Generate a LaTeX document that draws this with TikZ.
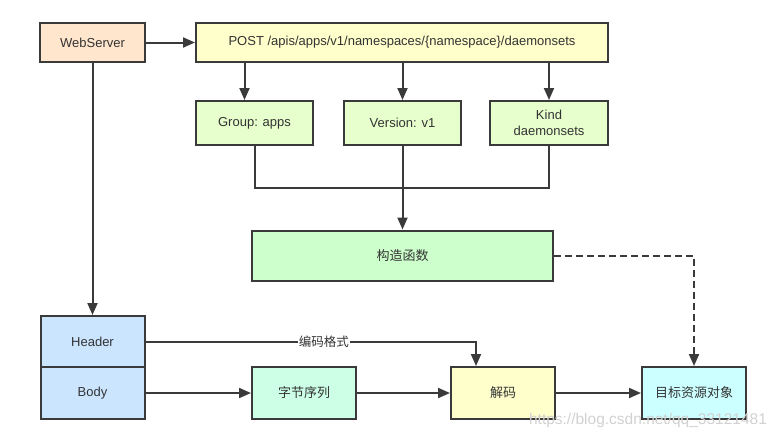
\documentclass[tikz,border=0pt]{standalone}
\usepackage{fontspec}
\setmainfont{Liberation Sans}
\newfontfamily\cjk{Noto Sans CJK SC}
\usepackage{tikz}
\usetikzlibrary{arrows.meta}
\definecolor{linegray}{HTML}{3A3A3A}
\definecolor{textgray}{HTML}{333333}
\definecolor{peach}{HTML}{FFE6CC}
\definecolor{lightyellow}{HTML}{FFFFCC}
\definecolor{palegreen}{HTML}{E6FFCC}
\definecolor{mintgreen}{HTML}{CCFFCC}
\definecolor{lightblue}{HTML}{CCE5FF}
\definecolor{mint}{HTML}{CCFFE6}
\definecolor{lightcyan}{HTML}{CCFFFF}
\tikzset{
  box/.style={draw=linegray, line width=2pt, text=textgray, align=center,
    inner sep=0pt, font=\fontsize{13}{16}\selectfont},
  arr/.style={draw=linegray, line width=2pt, -{Triangle[length=12pt,width=10pt]}},
  wire/.style={draw=linegray, line width=2pt}
}
\begin{document}
\begin{tikzpicture}[x=1pt, y=-1pt]
      \useasboundingbox (0,0) rectangle (778,440);

      \draw (92.5,42.5) node[box, fill=peach, minimum width=105, minimum height=39] (web) {WebServer};
      \draw (402,42.5) node[box, fill=lightyellow, minimum width=412, minimum height=39] (post) {POST /apis/apps/v1/namespaces/\{namespace\}/daemonsets};

      \draw (254.5,123) node[box, fill=palegreen, minimum width=117, minimum height=44] (group) {Group: apps};
      \draw (402.5,123) node[box, fill=palegreen, minimum width=117, minimum height=44] (version) {Version: v1};
      \draw (549,123) node[box, fill=palegreen, minimum width=118, minimum height=44] (kind) {Kind\\daemonsets};

      \draw (402.5,255.5) node[box, fill=mintgreen, minimum width=301, minimum height=50] (ctor) {\cjk 构造函数};

      \draw (92.5,341.5) node[box, fill=lightblue, minimum width=104, minimum height=51] (header) {Header};
      \draw (92.5,393) node[box, fill=lightblue, minimum width=104, minimum height=52] (body) {Body};
      \draw (304,393) node[box, fill=mint, minimum width=104, minimum height=52] (bytes) {\cjk 字节序列};
      \draw (503,393) node[box, fill=lightyellow, minimum width=104, minimum height=52] (decode) {\cjk 解码};
      \draw (694,393) node[box, fill=lightcyan, minimum width=104, minimum height=52] (target) {\cjk 目标资源对象};

      \coordinate (join) at (402.5,188);

      \draw[arr] (web) -- (post);
      \draw[arr] ([xshift=-10pt]group.north |- post.south) -- ([xshift=-10pt]group.north);
      \draw[arr] (version.north |- post.south) -- (version.north);
      \draw[arr] (kind.north |- post.south) -- (kind.north);

      \draw[wire] (group.south) |- (join) -| (kind.south);
      \draw[arr] (version.south) -- (ctor.north);

      \draw[arr] (web.south) -- (header.north);
      \draw[arr, dashed, dash pattern=on 7pt off 4pt] (ctor.east) -| (target.north);

      \draw[arr] (header.east) -| ([xshift=-27pt]decode.north)
        node[pos=0.27, fill=white, inner sep=1pt, text=textgray, font=\cjk\fontsize{12.5}{15}\selectfont] (fmt) {编码格式};
      \draw[arr] (body) -- (bytes);
      \draw[arr] (bytes) -- (decode);
      \draw[arr] (decode) -- (target);

      \draw (648,420) node[text=black!18, font=\fontsize{15.5}{18}\selectfont] (mark) {https://blog.csdn.net/qq\_33121481};
    \end{tikzpicture}
\end{document}
